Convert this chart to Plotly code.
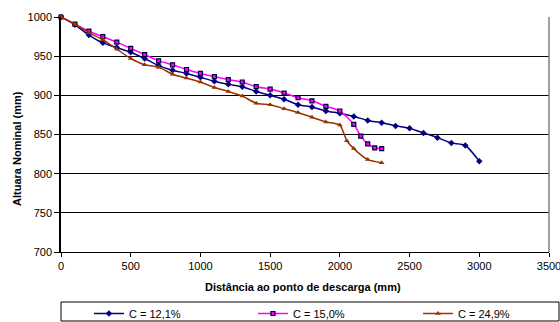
import plotly.graph_objects as go

# ---- data ----
x_c121 = [0, 100, 200, 300, 400, 500, 600, 700, 800, 900, 1000, 1100, 1200, 1300, 1400, 1500,
          1600, 1700, 1800, 1900, 2000, 2100, 2200, 2300, 2400, 2500, 2600, 2700, 2800, 2900, 3000]
y_c121 = [1000, 990, 977, 967, 961, 955, 947, 938, 932, 928, 923, 918, 914, 911, 905, 900,
          895, 888, 885, 880, 877, 873, 868, 865, 861, 858, 852, 846, 839, 836, 816]

x_c150 = [0, 100, 200, 300, 400, 500, 600, 700, 800, 900, 1000, 1100, 1200, 1300, 1400, 1500,
          1600, 1700, 1800, 1900, 2000, 2100, 2150, 2200, 2250, 2300]
y_c150 = [1000, 991, 982, 975, 968, 960, 952, 944, 939, 933, 928, 924, 920, 917, 911, 908,
          903, 897, 893, 886, 880, 863, 848, 838, 833, 832]

x_c249 = [0, 100, 200, 300, 400, 500, 600, 700, 800, 900, 1000, 1100, 1200, 1300, 1400, 1500,
          1600, 1700, 1800, 1900, 2000, 2050, 2100, 2200, 2300]
y_c249 = [1000, 991, 980, 971, 959, 947, 939, 936, 927, 922, 917, 910, 905, 899, 890, 888,
          883, 878, 872, 866, 862, 842, 832, 818, 814]

series_names = ["C = 12,1%", "C = 15,0%", "C = 24,9%"]
x_ticks = [0, 500, 1000, 1500, 2000, 2500, 3000, 3500]
y_ticks = [700, 750, 800, 850, 900, 950, 1000]
x_title = "Distância ao ponto de descarga (mm)"
y_title = "Altuara Nominal (mm)"

FONT = "Liberation Sans, Arial, sans-serif"

fig = go.Figure()
fig.add_trace(go.Scatter(
    x=x_c121, y=y_c121, name=series_names[0], mode="lines+markers", legend="legend",
    line=dict(color="#000080", width=1.5, shape="spline", smoothing=0.6),
    marker=dict(symbol="diamond", size=5, color="#000080"),
    cliponaxis=False))
fig.add_trace(go.Scatter(
    x=x_c150, y=y_c150, name=series_names[1], mode="lines+markers", legend="legend2",
    line=dict(color="#FF00FF", width=1.5, shape="spline", smoothing=0.6),
    marker=dict(symbol="square", size=4, color="#FF00FF", line=dict(color="#000040", width=1.2)),
    cliponaxis=False))
fig.add_trace(go.Scatter(
    x=x_c249, y=y_c249, name=series_names[2], mode="lines+markers", legend="legend3",
    line=dict(color="#993300", width=1.5, shape="spline", smoothing=0.6),
    marker=dict(symbol="triangle-up", size=5, color="#993300"),
    cliponaxis=False))

def leg(xp):
    return dict(orientation="h", x=xp, xanchor="left", y=-0.2, yanchor="top",
                font=dict(family=FONT, size=11, color="black"),
                bgcolor="rgba(0,0,0,0)", borderwidth=0, itemwidth=30)

fig.update_layout(
    width=560, height=322,
    margin=dict(l=61, r=11, t=17, b=70, autoexpand=False),
    paper_bgcolor="white", plot_bgcolor="white",
    font=dict(family=FONT, size=11, color="black"),
    showlegend=True,
    legend=leg(0.0573), legend2=leg(0.3934), legend3=leg(0.7315),
    xaxis=dict(range=[0, 3500], tickvals=x_ticks, showgrid=False, zeroline=False,
               showline=True, linecolor="black", linewidth=1,
               ticks="outside", ticklen=4, tickcolor="black", ticklabeloverflow="allow",
               tickfont=dict(family=FONT, size=11, color="black")),
    yaxis=dict(range=[700, 1000], tickvals=y_ticks, showgrid=True, gridcolor="black", gridwidth=1,
               zeroline=False, showline=True, linecolor="black", linewidth=1.5,
               ticks="outside", ticklen=5, tickcolor="black",
               tickfont=dict(family=FONT, size=11, color="black")),
    annotations=[
        dict(text="<b>" + x_title + "</b>", xref="paper", yref="paper", x=0.496, y=-0.148,
             xanchor="center", yanchor="middle", showarrow=False,
             font=dict(family=FONT, size=11, color="black")),
        dict(text="<b>" + y_title + "</b>", xref="paper", yref="paper", x=-0.09, y=0.439,
             xanchor="center", yanchor="middle", showarrow=False, textangle=-90,
             font=dict(family=FONT, size=11, color="black")),
    ],
    shapes=[
        dict(type="line", xref="paper", yref="paper", x0=1, x1=1, y0=0, y1=1,
             line=dict(color="#808080", width=1.5)),
        dict(type="rect", xref="paper", yref="paper", x0=0, x1=1.0205, y0=-0.2936, y1=-0.2128,
             line=dict(color="black", width=1)),
    ],
)

fig.write_html("out.html")
